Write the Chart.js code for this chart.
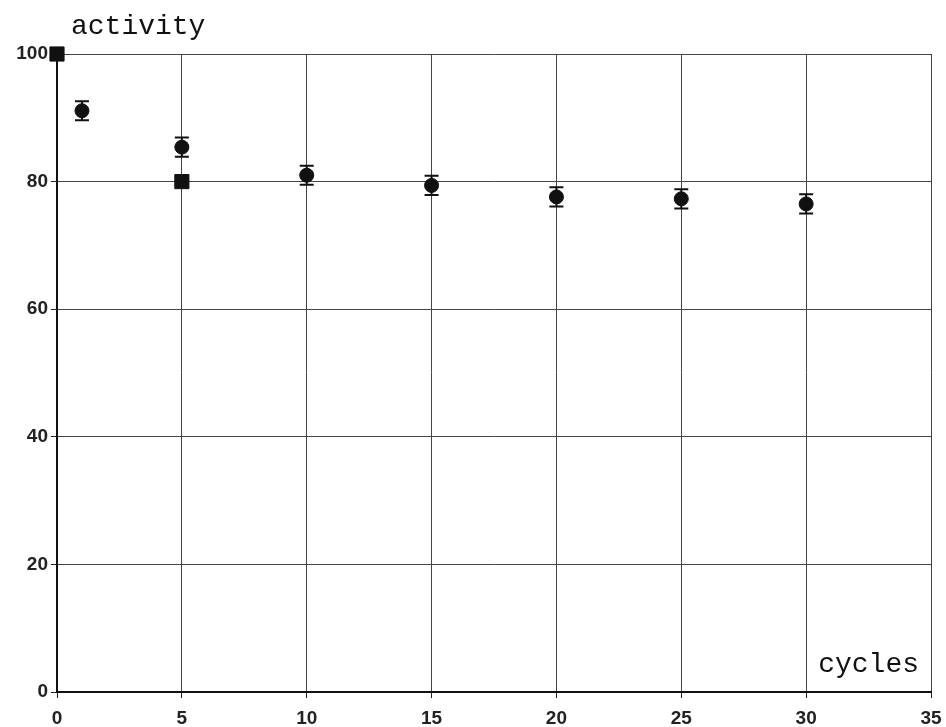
<!DOCTYPE html>
<html>
<head>
<meta charset="utf-8">
<script src="https://cdn.jsdelivr.net/npm/chart.js@4/dist/chart.umd.min.js"></script>
<style>
  html, body { margin: 0; padding: 0; background: #fff; }
  #wrap { width: 946px; height: 727px; }
</style>
</head>
<body>
<div id="wrap"><canvas id="activityChart" width="946" height="727"></canvas></div>
<script>
// measured points (circles) with error bars
const cycles = [1, 5, 10, 15, 20, 25, 30];
const activity = [91.1, 85.4, 81.0, 79.4, 77.6, 77.3, 76.5];
const activityErr = [1.5, 1.5, 1.5, 1.5, 1.5, 1.5, 1.5];

// reference points (squares)
const refCycles = [0, 5];
const refActivity = [100, 80];

const xTicks = [0, 5, 10, 15, 20, 25, 30, 35];
const yTicks = [0, 20, 40, 60, 80, 100];

const tickFont = { family: 'Liberation Sans, Arial', size: 19, weight: 'bold' };

// draws the vertical error bars through the chart's scales
const errorBars = {
    id: 'errorBars',
    afterDatasetsDraw(chart) {
        const ctx = chart.ctx;
        const xs = chart.scales.x, ys = chart.scales.y;
        ctx.save();
        ctx.strokeStyle = '#111';
        ctx.lineWidth = 2;
        cycles.forEach((c, i) => {
            const px = xs.getPixelForValue(c);
            const top = ys.getPixelForValue(activity[i] + activityErr[i]);
            const bot = ys.getPixelForValue(activity[i] - activityErr[i]);
            ctx.beginPath();
            ctx.moveTo(px, top); ctx.lineTo(px, bot);
            ctx.moveTo(px - 7, top); ctx.lineTo(px + 7, top);
            ctx.moveTo(px - 7, bot); ctx.lineTo(px + 7, bot);
            ctx.stroke();
        });
        ctx.restore();
    }
};

// axis captions in typewriter font
const captions = {
    id: 'captions',
    afterDraw(chart) {
        const ctx = chart.ctx;
        const a = chart.chartArea;
        ctx.save();
        ctx.fillStyle = '#111';
        ctx.font = '28px "Liberation Mono", "Courier New", monospace';
        ctx.textBaseline = 'alphabetic';
        ctx.textAlign = 'left';
        ctx.fillText('activity', a.left + 14, a.top - 20);
        ctx.textAlign = 'right';
        ctx.fillText('cycles', a.right - 12, a.bottom - 20);
        ctx.restore();
    }
};

const ctx = document.getElementById('activityChart').getContext('2d');
new Chart(ctx, {
    type: 'scatter',
    data: {
        datasets: [
            {
                label: 'activity',
                data: cycles.map((c, i) => ({ x: c, y: activity[i] })),
                pointStyle: 'circle',
                pointRadius: 7,
                backgroundColor: '#111',
                borderColor: '#111',
                borderWidth: 1,
                clip: false
            },
            {
                label: 'reference',
                data: refCycles.map((c, i) => ({ x: c, y: refActivity[i] })),
                pointStyle: 'rect',
                pointRadius: 10,
                backgroundColor: '#111',
                borderColor: '#111',
                borderWidth: 1,
                clip: false
            }
        ]
    },
    options: {
        responsive: false,
        animation: false,
        events: [],
        layout: { padding: { top: 54, right: 0, left: 0, bottom: 0 } },
        plugins: { legend: { display: false }, tooltip: { enabled: false } },
        scales: {
            x: {
                type: 'linear',
                min: 0, max: 35,
                afterBuildTicks: (s) => { s.ticks = xTicks.map(v => ({ value: v })); },
                afterFit: (s) => { s.height = 35; s.paddingRight = 15; s.paddingLeft = 0; },
                grid: { color: '#444', lineWidth: 1, drawTicks: true, tickLength: 6, tickColor: '#222' },
                border: { color: '#111', width: 2 },
                ticks: { color: '#222', font: tickFont, padding: 9, maxRotation: 0 }
            },
            y: {
                min: 0, max: 100,
                afterBuildTicks: (s) => { s.ticks = yTicks.map(v => ({ value: v })); },
                afterFit: (s) => { s.width = 57; },
                grid: { color: '#444', lineWidth: 1, drawTicks: true, tickLength: 6, tickColor: '#222' },
                border: { color: '#111', width: 2 },
                ticks: { color: '#222', font: tickFont, padding: 3 }
            }
        }
    },
    plugins: [errorBars, captions]
});
</script>
</body>
</html>
